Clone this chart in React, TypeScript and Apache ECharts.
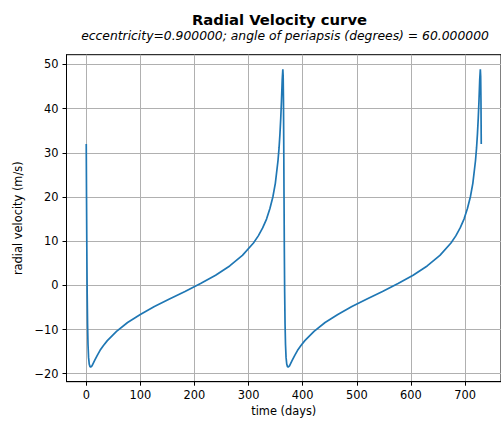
import React, { useEffect, useRef } from "react";
import * as echarts from "echarts";

const times = [
  0, 0.51, 1.06, 1.68, 2.4, 3.25, 4.28, 5.5, 6.95, 8.06, 10.64, 15.56, 20.13, 25.54, 31.81, 38.97,
  55.96, 76.39, 99.9, 125.94, 153.76, 182.5, 211.24, 239.05, 265.09, 288.6, 309.04, 317.97, 326.02,
  333.18, 339.45, 344.86, 349.44, 354.35, 356.33, 358.04, 359.49, 360.72, 362.19, 363.31, 363.93,
  364.48, 365.0,
  365.51, 366.06, 366.68, 367.4, 368.25, 369.28, 370.5, 371.95, 373.06, 375.64, 380.56, 385.13,
  390.54, 396.81, 403.97, 420.96, 441.39, 464.9, 490.94, 518.76, 547.5, 576.24, 604.05, 630.09,
  653.6, 674.04, 682.97, 691.02, 698.18, 704.45, 709.86, 714.44, 719.35, 721.33, 723.04, 724.49,
  725.72, 727.19, 728.31, 728.93, 729.48, 730.0,
];

const velocities = [
  32.0, 20.1, 8.3, -1.5, -8.7, -13.4, -16.3, -17.8, -18.4, -18.5, -18.2, -17.0, -15.9, -14.7, -13.6,
  -12.5, -10.4, -8.4, -6.6, -4.8, -3.1, -1.4, 0.4, 2.3, 4.4, 6.8, 9.6, 11.2, 13.0, 15.0, 17.4, 20.0,
  23.1, 28.2, 31.1, 34.4, 37.9, 41.5, 46.6, 48.9, 47.3, 41.7, 32.0,
  20.1, 8.3, -1.5, -8.7, -13.4, -16.3, -17.8, -18.4, -18.5, -18.2, -17.0, -15.9, -14.7, -13.6,
  -12.5, -10.4, -8.4, -6.6, -4.8, -3.1, -1.4, 0.4, 2.3, 4.4, 6.8, 9.6, 11.2, 13.0, 15.0, 17.4, 20.0,
  23.1, 28.2, 31.1, 34.4, 37.9, 41.5, 46.6, 48.9, 47.3, 41.7, 32.0,
];

const xTicks = [0, 100, 200, 300, 400, 500, 600, 700];
const yTicks = [-20, -10, 0, 10, 20, 30, 40, 50];

const title = "Radial Velocity curve";
const subtitle = "eccentricity=0.900000; angle of periapsis (degrees) = 60.000000";
const xName = "time (days)";
const yName = "radial velocity (m/s)";

const FONT = "DejaVu Sans";

export default function App() {
  const ref = useRef<HTMLDivElement>(null);

  useEffect(() => {
    if (!ref.current) return;
    const chart = echarts.init(ref.current, null, { renderer: "svg" });
    const data = times.map((t, i) => [t, velocities[i]]);
    chart.setOption({
      animation: false,
      backgroundColor: "#ffffff",
      graphic: [
        {
          type: "text",
          x: 279.5,
          y: 19,
          style: {
            text: title,
            font: `bold 14.8px "${FONT}"`,
            fill: "#000",
            align: "center",
            verticalAlign: "middle",
          },
        },
        {
          type: "text",
          x: 285,
          y: 35.5,
          style: {
            text: subtitle,
            font: `italic 12.35px "${FONT}"`,
            fill: "#000",
            align: "center",
            verticalAlign: "middle",
          },
        },
      ],
      grid: {
        left: 66.5,
        top: 54.7,
        right: -5.2,
        bottom: 43.3,
        show: true,
        borderColor: "#000",
        borderWidth: 1,
        backgroundColor: "transparent",
      },
      xAxis: {
        type: "value",
        min: -36.5,
        max: 766.5,
        name: xName,
        nameLocation: "middle",
        nameGap: 23,
        nameTextStyle: { fontFamily: FONT, fontSize: 11.4, color: "#000" },
        axisLine: { show: true, onZero: false, lineStyle: { color: "#000", width: 1 } },
        axisTick: {
          show: true,
          inside: false,
          length: 4,
          customValues: xTicks,
          lineStyle: { color: "#000", width: 1 },
        },
        axisLabel: {
          customValues: xTicks,
          margin: 8,
          fontFamily: FONT,
          fontSize: 11.4,
          color: "#000",
        },
        splitLine: { show: true, lineStyle: { color: "#b0b0b0", width: 1 } },
      },
      yAxis: {
        type: "value",
        min: -21.8,
        max: 52.2,
        name: yName,
        nameLocation: "middle",
        nameGap: 36,
        nameRotate: 90,
        nameTextStyle: { fontFamily: FONT, fontSize: 11.4, color: "#000" },
        axisLine: { show: true, onZero: false, lineStyle: { color: "#000", width: 1 } },
        axisTick: {
          show: true,
          inside: false,
          length: 4,
          customValues: yTicks,
          lineStyle: { color: "#000", width: 1 },
        },
        axisLabel: {
          customValues: yTicks,
          margin: 8,
          fontFamily: FONT,
          fontSize: 11.4,
          color: "#000",
          formatter: (v: number) => (v < 0 ? "\u2212" + Math.abs(v) : String(v)),
        },
        splitLine: { show: true, lineStyle: { color: "#b0b0b0", width: 1 } },
      },
      series: [
        {
          type: "line",
          data,
          showSymbol: false,
          symbol: "none",
          smooth: false,
          lineStyle: { color: "#1f77b4", width: 1.7 },
          itemStyle: { color: "#1f77b4" },
        },
      ],
    });
    return () => chart.dispose();
  }, []);

  return (
    <div
      ref={ref}
      style={{ position: "fixed", left: 0, top: 0, width: 501, height: 425 }}
    />
  );
}
